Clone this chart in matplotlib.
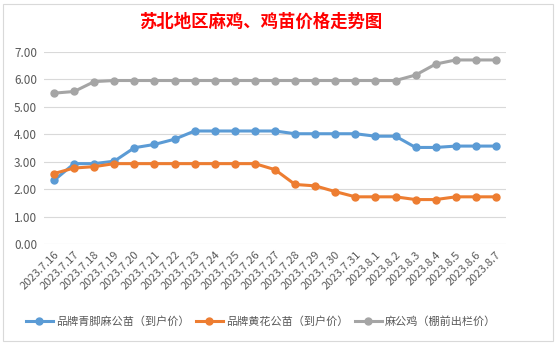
import matplotlib
matplotlib.use("Agg")
import matplotlib.pyplot as plt
from matplotlib.patches import Rectangle
from matplotlib.lines import Line2D

plt.rcParams['font.family'] = ['Noto Sans CJK SC', 'DejaVu Sans']

dates = ["2023.7.16", "2023.7.17", "2023.7.18", "2023.7.19", "2023.7.20", "2023.7.21",
         "2023.7.22", "2023.7.23", "2023.7.24", "2023.7.25", "2023.7.26", "2023.7.27",
         "2023.7.28", "2023.7.29", "2023.7.30", "2023.7.31", "2023.8.1", "2023.8.2",
         "2023.8.3", "2023.8.4", "2023.8.5", "2023.8.6", "2023.8.7"]
blue_vals = [2.32, 2.93, 2.93, 3.02, 3.51, 3.63, 3.82, 4.12, 4.12, 4.12, 4.12, 4.12,
             4.02, 4.02, 4.02, 4.02, 3.93, 3.93, 3.52, 3.52, 3.57, 3.57, 3.57]
orange_vals = [2.57, 2.77, 2.82, 2.93, 2.93, 2.93, 2.93, 2.93, 2.93, 2.93, 2.93, 2.71,
               2.17, 2.12, 1.91, 1.72, 1.72, 1.72, 1.62, 1.62, 1.72, 1.72, 1.72]
gray_vals = [5.50, 5.56, 5.92, 5.96, 5.96, 5.96, 5.96, 5.96, 5.96, 5.96, 5.96, 5.96,
             5.96, 5.96, 5.96, 5.96, 5.96, 5.96, 6.16, 6.56, 6.71, 6.71, 6.71]
series_names = ["品牌青脚麻公苗（到户价）", "品牌黄花公苗（到户价）", "麻公鸡（棚前出栏价）"]
colors = ["#5B9BD5", "#ED7D31", "#A5A5A5"]
title = "苏北地区麻鸡、鸡苗价格走势图"
yticks = [0, 1, 2, 3, 4, 5, 6, 7]

W, H = 558, 344
fig = plt.figure(figsize=(W / 100, H / 100), dpi=100)
fig.patch.set_facecolor("white")

# chart border
fig.patches.append(Rectangle((3 / W, 3 / H), (553 - 3) / W, (340 - 3) / H,
                             transform=fig.transFigure, fill=False,
                             edgecolor="#D9D9D9", linewidth=0.8))

ax = fig.add_axes([44 / W, 1 - 244 / H, (506 - 44) / W, (244 - 52) / H])
x = list(range(len(dates)))
for vals, name, c in zip([blue_vals, orange_vals, gray_vals], series_names, colors):
    ax.plot(x, vals, color=c, linewidth=2.2, marker="o", markersize=5,
            label=name, solid_capstyle="round", solid_joinstyle="round", zorder=3)

ax.set_xlim(-0.5, len(dates) - 0.5)
ax.set_ylim(0, 7)
ax.set_yticks(yticks)
ax.set_yticklabels([f"{v:.2f}" for v in yticks], fontsize=8.5, color="#595959")
ax.grid(axis="y", color="#D9D9D9", linewidth=0.8)
ax.set_axisbelow(True)
for s in ax.spines.values():
    s.set_visible(False)
ax.tick_params(axis="both", length=0)
ax.tick_params(axis="y", pad=5)
ax.set_xticks(x)
ax.set_xticklabels(dates, rotation=45, ha="right", va="top",
                   rotation_mode="anchor", fontsize=8, color="#595959")
ax.tick_params(axis="x", pad=4)

fig.text(261 / W, 1 - 22 / H, title, ha="center", va="center", color="red",
         fontsize=12.5, fontweight="bold")

handles = [Line2D([0], [0], color=c, linewidth=2.2, marker="o", markersize=5)
           for c in colors]
fig.legend(handles, series_names, loc="center", bbox_to_anchor=(0.468, 1 - 322 / H),
           ncol=3, frameon=False, fontsize=8, handlelength=2.4, handletextpad=0.3,
           columnspacing=0.6, labelcolor="#595959")

fig.savefig("out.png", dpi=100)
